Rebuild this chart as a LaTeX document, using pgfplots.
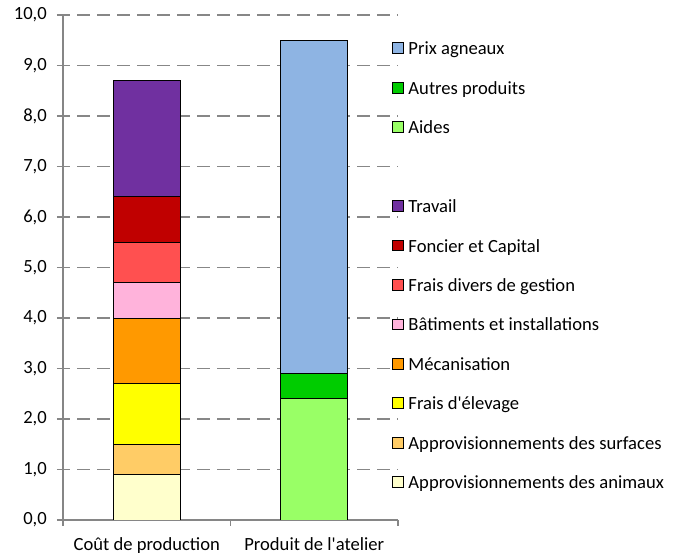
\documentclass[border=0pt]{standalone}
\usepackage{fontspec}
\setmainfont{Carlito}
\usepackage{pgfplots}
\pgfplotsset{compat=1.18}
\definecolor{axgray}{HTML}{868686}
\definecolor{gridgray}{HTML}{878787}
\definecolor{cAnim}{HTML}{FFFFCC}
\definecolor{cSurf}{HTML}{FFCC66}
\definecolor{cElev}{HTML}{FFFF00}
\definecolor{cMeca}{HTML}{FF9900}
\definecolor{cBat}{HTML}{FFB3DB}
\definecolor{cDiv}{HTML}{FF5050}
\definecolor{cFonc}{HTML}{C00000}
\definecolor{cTrav}{HTML}{7030A0}
\definecolor{cAides}{HTML}{99FF66}
\definecolor{cAutres}{HTML}{00CC00}
\definecolor{cPrix}{HTML}{8EB4E3}
\begin{document}
\fontsize{18.6pt}{22pt}\selectfont
\begin{tikzpicture}
\useasboundingbox (0,0) rectangle (673pt,554pt);
\begin{axis}[
  at={(63pt,34pt)}, anchor=south west,
  scale only axis, width=335pt, height=505pt,
  xmin=0, xmax=2, ymin=0, ymax=10,
  axis x line*=bottom, axis y line*=left,
  axis line style={draw=axgray, line width=1.5pt},
  ytick={0,1,...,10},
  xtick={0,1,2}, xticklabels={},
  extra x ticks={0.5,1.5},
  extra x tick labels={Coût de production, Produit de l\textquotesingle atelier},
  extra x tick style={major tick length=0pt, grid=none},
  tick align=outside, major tick length=6pt,
  tick style={draw=axgray, line width=1.5pt},
  ymajorgrids,
  grid style={draw=gridgray, line width=1.5pt, dash pattern=on 13pt off 7pt, dash phase=6pt},
  yticklabel={\pgfmathprintnumber[fixed,fixed zerofill,precision=1,use comma,assume math mode=true]{\tick}},
  yticklabel style={inner sep=0pt, xshift=-10pt},
  xticklabel style={inner sep=0pt, yshift=-17pt},
  ybar stacked, bar width=67pt,
  every axis plot/.append style={draw=black, line width=0.8pt},
  legend style={at={(0.982,0.947)}, anchor=north west, draw=none, fill=none,
    inner sep=0pt, outer sep=0pt, row sep=22.45pt,
    nodes={inner sep=0pt, text height=13pt, text depth=4pt, anchor=base west},
    /tikz/every odd column/.style={column sep=5pt}},
  legend cell align=left,
  reverse legend,
  legend image code/.code={\draw[#1, line width=0.8pt] (0pt,1.3pt) rectangle (10.7pt,12pt);},
]
\addplot[fill=cAnim] coordinates {(0.5,0.9) (1.5,0)};
\addlegendentry{Approvisionnements des animaux}
\addplot[fill=cSurf] coordinates {(0.5,0.6) (1.5,0)};
\addlegendentry{Approvisionnements des surfaces}
\addplot[fill=cElev] coordinates {(0.5,1.2) (1.5,0)};
\addlegendentry{Frais d\textquotesingle élevage}
\addplot[fill=cMeca] coordinates {(0.5,1.3) (1.5,0)};
\addlegendentry{Mécanisation}
\addplot[fill=cBat] coordinates {(0.5,0.7) (1.5,0)};
\addlegendentry{Bâtiments et installations}
\addplot[fill=cDiv] coordinates {(0.5,0.8) (1.5,0)};
\addlegendentry{Frais divers de gestion}
\addplot[fill=cFonc] coordinates {(0.5,0.9) (1.5,0)};
\addlegendentry{Foncier et Capital}
\addplot[fill=cTrav] coordinates {(0.5,2.3) (1.5,0)};
\addlegendentry{Travail}
\addlegendimage{empty legend}
\addlegendentry{\mbox{}}
\addplot[fill=cAides] coordinates {(0.5,0) (1.5,2.4)};
\addlegendentry{Aides}
\addplot[fill=cAutres] coordinates {(0.5,0) (1.5,0.5)};
\addlegendentry{Autres produits}
\addplot[fill=cPrix] coordinates {(0.5,0) (1.5,6.6)};
\addlegendentry{Prix agneaux}
\end{axis}
\end{tikzpicture}
\end{document}
